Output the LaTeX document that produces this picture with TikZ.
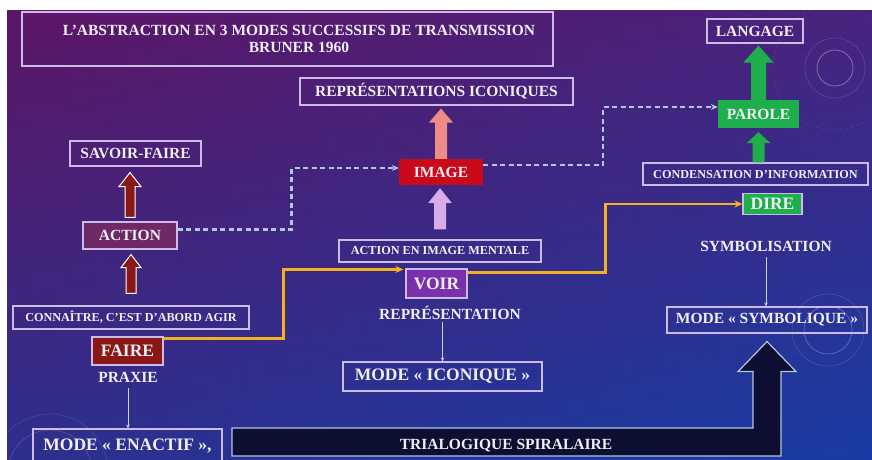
\documentclass[tikz,border=0pt]{standalone}
\usepackage{fontspec}
\setmainfont{Liberation Serif}
\usetikzlibrary{arrows.meta,calc}

\definecolor{fondhaut}{RGB}{90,24,106}
\definecolor{fondmilieu}{RGB}{44,38,140}
\definecolor{fondbas}{RGB}{22,60,162}
\definecolor{fondgauche}{RGB}{100,18,92}
\definecolor{fonddroite}{RGB}{30,62,172}
\definecolor{cadre}{RGB}{205,186,230}
\definecolor{texte}{RGB}{242,238,248}
\definecolor{brique}{RGB}{138,24,22}
\definecolor{prune}{RGB}{110,40,102}
\definecolor{voirviolet}{RGB}{122,48,172}
\definecolor{rougeimage}{RGB}{202,10,26}
\definecolor{vert}{RGB}{30,174,76}
\definecolor{saumon}{RGB}{240,140,135}
\definecolor{lavande}{RGB}{216,172,232}
\definecolor{jaune}{RGB}{245,176,30}
\definecolor{tiret}{RGB}{176,200,230}
\definecolor{fin}{RGB}{200,206,232}
\definecolor{marine}{RGB}{12,14,50}
\definecolor{bordpiste}{RGB}{182,196,232}

% fleche pleine verticale : style, depart, pointe, demi-corps, demi-tete, longueur tete
\newcommand{\flechebloc}[6]{%
  \path[#1] let \p1=(#2), \p2=(#3) in
    ({\x1-#4pt},\y1) -- ({\x1-#4pt},{\y2-#6pt}) -- ({\x1-#5pt},{\y2-#6pt}) -- (\x1,\y2)
    -- ({\x1+#5pt},{\y2-#6pt}) -- ({\x1+#4pt},{\y2-#6pt}) -- ({\x1+#4pt},\y1) -- cycle;}

\begin{document}
\begin{tikzpicture}[x=1pt, y=-1pt,
	boite/.style={draw=cadre, line width=1.1pt, inner sep=0pt, text=texte},
	pave/.style={inner sep=0pt, text=texte},
	legende/.style={text=texte, inner sep=0pt, anchor=base},
	grand/.style={font=\fontsize{17.5}{20}\selectfont\bfseries},
	moyen/.style={font=\fontsize{15.5}{17.5}\selectfont\bfseries},
	petit/.style={font=\fontsize{12.2}{14}\selectfont\bfseries},
	brunfleche/.style={fill=brique, draw=white, line width=1pt},
	piste/.style={fill=marine, draw=bordpiste, line width=1.2pt},
	fil/.style={draw=fin, line width=0.8pt, -{Stealth[length=4pt, width=3.5pt]}},
	tirets/.style={draw=tiret, line width=2.2pt, dash pattern=on 5pt off 3.5pt, -{Stealth[length=7pt, width=6pt]}},
	parcours/.style={draw=jaune, line width=2.8pt, -{Stealth[length=8pt, width=7pt]}}]
	\useasboundingbox (0,0) rectangle (872,459);
	% Fond:
	\fill[white] (0,0) rectangle (872,459);
	\shade[top color=fondhaut, middle color=fondmilieu, bottom color=fondbas] (7,10) rectangle (872,459);
	\shade[left color=fondgauche, right color=fonddroite, opacity=0.3] (7,10) rectangle (872,459);
	\draw[white, line width=0.8pt, opacity=0.35] (835,68) circle[radius=18];
	\draw[white, line width=0.6pt, opacity=0.15] (835,68) circle[radius=30];
	\draw[white, line width=0.6pt, opacity=0.1, dashed] (835,68) circle[radius=62];
	\draw[white, line width=0.8pt, opacity=0.25] (828,330) circle[radius=24];
	\draw[white, line width=0.6pt, opacity=0.15] (828,330) circle[radius=36];
	\draw[white, line width=0.6pt, opacity=0.18] (50,472) circle[radius=42];
	\draw[white, line width=0.6pt, opacity=0.12] (50,472) circle[radius=58];
	% Titre:
	\node[boite, minimum width=531, minimum height=54] (titre) at (287.5, 39){} node[pave, moyen, align=center] at (299, 39){L’ABSTRACTION EN 3 MODES SUCCESSIFS DE TRANSMISSION\\BRUNER 1960};
	% Mode enactif:
	\node[boite, moyen, minimum width=131, minimum height=25] (savoir) at (135.5, 153.5){SAVOIR-FAIRE};
	\node[boite, moyen, fill=prune, minimum width=94, minimum height=27] (action) at (130, 235.5){ACTION};
	\node[boite, petit, minimum width=236, minimum height=23] (connaitre) at (131, 317.5){CONNAÎTRE, C’EST D’ABORD AGIR};
	\node[boite, grand, fill=brique, minimum width=71, minimum height=28] (faire) at (127.5, 351){FAIRE};
	\node[legende, moyen] (praxie) at (128, 382){PRAXIE};
	\node[boite, grand, minimum width=189, minimum height=34] (enactif) at (127.5, 446){MODE « ENACTIF »,};
	% Mode iconique:
	\node[boite, moyen, minimum width=273, minimum height=27] (repr) at (436.5, 91.5){REPRÉSENTATIONS ICONIQUES};
	\node[pave, moyen, fill=rougeimage, minimum width=84, minimum height=26] (image) at (441, 172){IMAGE};
	\node[boite, petit, minimum width=202, minimum height=22] (actimg) at (440, 251){ACTION EN IMAGE MENTALE};
	\node[boite, grand, fill=voirviolet, minimum width=61, minimum height=29] (voir) at (436.5, 283.5){VOIR};
	\node[legende, moyen] (representation) at (450, 319){REPRÉSENTATION};
	\node[boite, grand, minimum width=199, minimum height=29] (iconique) at (442.5, 376.5){MODE « ICONIQUE »};
	% Mode symbolique:
	\node[boite, moyen, minimum width=96, minimum height=24] (langage) at (755, 31){LANGAGE};
	\node[pave, moyen, fill=vert, minimum width=81, minimum height=28] (parole) at (758.5, 114){PAROLE};
	\node[boite, petit, minimum width=225, minimum height=22] (condens) at (755.5, 174){CONDENSATION D’INFORMATION};
	\node[boite, grand, fill=vert, minimum width=59, minimum height=21] (dire) at (772.5, 204){DIRE};
	\node[legende, moyen] (symbolisation) at (766, 251){SYMBOLISATION};
	\node[boite, moyen, minimum width=200, minimum height=26] (symbolique) at (767, 320){MODE « SYMBOLIQUE »};
	% Fleches:
	\flechebloc{brunfleche}{[yshift=12pt]connaitre.north}{[yshift=-5pt]action.south}{5}{10}{13}
	\flechebloc{brunfleche}{[yshift=4pt]action.north}{[yshift=-6pt]savoir.south}{5}{11}{14}
	\flechebloc{fill=lavande}{[yshift=10pt]actimg.north}{[yshift=-3pt]image.south}{6}{12}{15}
	\flechebloc{fill=saumon}{image.north}{[yshift=-3pt]repr.south}{6}{12}{14}
	\flechebloc{fill=vert}{[xshift=3pt]condens.north}{[yshift=-4pt]parole.south}{6}{12}{11}
	\flechebloc{fill=vert}{parole.north}{[yshift=-2pt]langage.south}{7.5}{15}{17}
	\draw[fil] ([yshift=-6pt]praxie.south) -- (praxie.south |- enactif.north);
	\draw[fil, shorten <=3pt] (representation.south -| iconique.north) -- (iconique.north);
	\draw[fil, shorten <=6pt] (symbolisation.south) -- (symbolisation.south |- symbolique.north);
	\draw[tirets] ([yshift=6pt]action.east) -- ++(114,0) |- ([yshift=4pt]image.west);
	\draw[tirets] ([yshift=7pt]image.east) -- ++(120,0) |- ([yshift=7pt]parole.west);
	\draw[parcours, shorten >=2pt] ([yshift=-2pt]faire.north east) -- ++(120,0) |- ([yshift=-1pt]voir.north west);
	\draw[parcours] ([yshift=-4pt]voir.north east) -- ++(138,0) |- (dire.west);
	% Trialogique:
	\coordinate (depart) at (232, 442);
	\path[piste] let \p1=(depart), \p2=([yshift=-8pt]symbolique.south) in
		(\x1,{\y1+14pt}) -- ({\x2-14pt},{\y1+14pt}) -- ({\x2-14pt},{\y2-30pt}) -- ({\x2-29pt},{\y2-30pt}) -- (\x2,\y2)
		-- ({\x2+29pt},{\y2-30pt}) -- ({\x2+14pt},{\y2-30pt}) -- ({\x2+14pt},{\y1-14pt}) -- (\x1,{\y1-14pt}) -- cycle;
	\node[legende, moyen] (trialogique) at (506, 449){TRIALOGIQUE SPIRALAIRE};
\end{tikzpicture}
\end{document}
